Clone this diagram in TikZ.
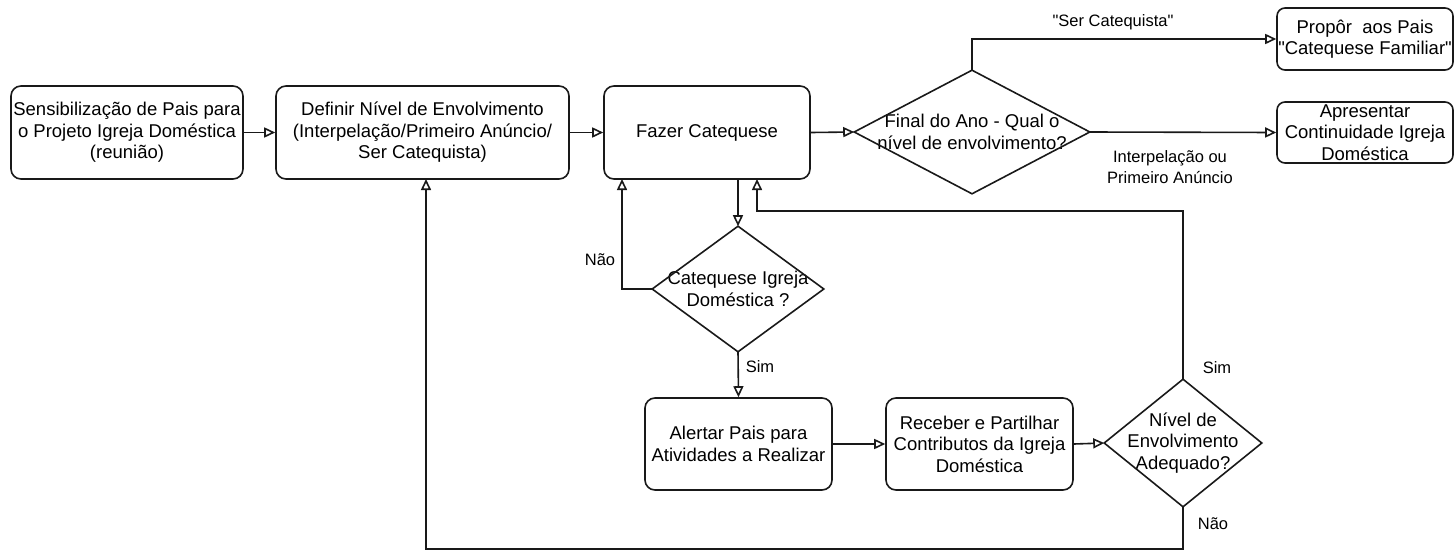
\documentclass[tikz,border=0pt]{standalone}
\usepackage{fontspec}
\setmainfont{Liberation Sans}
\usetikzlibrary{arrows.meta,calc}
\begin{document}
\begin{tikzpicture}[x=1pt,y=-1pt,
  line width=1.6pt,
  color=black!90,
  boxnode/.style={draw, rounded corners=10pt, inner sep=0pt, align=center, text=black, font=\fontsize{18.5}{21.5}\selectfont},
  dianode/.style={draw=none, inner sep=0pt, align=center, text=black, font=\fontsize{18.5}{21.5}\selectfont},
  lbl/.style={inner sep=0pt, text=black, font=\fontsize{16.5}{21}\selectfont},
  arr/.style={draw, -{Triangle[open, length=11pt, width=10pt, fill=white]}},
  diashape/.style={draw, line join=miter}
]
\useasboundingbox (0,0) rectangle (1455,554);

% boxes
\node[boxnode, minimum width=232pt, minimum height=93pt] (a) at (127,132.5) {Sensibilização de Pais para\\o Projeto Igreja Doméstica\\(reunião)};
\node[boxnode, minimum width=293pt, minimum height=93pt] (b) at (422.5,132.5) {Definir Nível de Envolvimento\\(Interpelação/Primeiro Anúncio/\\Ser Catequista)};
\node[boxnode, minimum width=206pt, minimum height=93pt] (c) at (707,132.5) {Fazer Catequese};
\node[boxnode, minimum width=176pt, minimum height=62pt, rounded corners=8pt] (p) at (1365,39) {Propôr\ \ aos Pais\\\textquotedbl Catequese Familiar\textquotedbl};
\node[boxnode, minimum width=176pt, minimum height=61pt, rounded corners=8pt] (ap) at (1365,132.5) {Apresentar\\Continuidade Igreja\\Doméstica};
\node[boxnode, minimum width=187pt, minimum height=92pt] (al) at (738.5,444) {Alertar Pais para\\Atividades a Realizar};
\node[boxnode, minimum width=187pt, minimum height=92pt] (re) at (979.5,444) {Receber e Partilhar\\Contributos da Igreja\\Doméstica};

% diamonds
\node[dianode, minimum width=234pt, minimum height=122pt] (d1) at (972,132) {Final do Ano - Qual o\\nível de envolvimento?};
\node[dianode, minimum width=170pt, minimum height=124pt] (d2) at (738,289) {Catequese Igreja\\Doméstica ?};
\node[dianode, minimum width=156pt, minimum height=126pt] (d3) at (1183,443) {Nível de\\Envolvimento\\Adequado?};
\foreach \d in {d1,d2,d3}{
  \draw[diashape] (\d.north) -- (\d.east) -- (\d.south) -- (\d.west) -- cycle;
}

% helper coordinates
\coordinate (cNao) at (622,179);
\coordinate (cSim) at (757,179);
\coordinate (kSim) at (757,211);
\coordinate (bIn) at (426,179);
\coordinate (kB) at (426,549);

% connectors
\draw[arr] (a.east) -- (b.west);
\draw[arr] (b.east) -- (c.west);
\draw[arr] (c.east) -- (d1.west);
\draw[arr] (d1.north) |- (p.west);
\draw[arr] (d1.east) -- (ap.west);
\draw[arr] (d2.north |- c.south) -- (d2.north);
\draw[arr] (d2.west) -| (cNao);
\draw[arr] (d2.south) -- (al.north);
\draw[arr] (al.east) -- (re.west);
\draw[arr] (re.east) -- (d3.west);
\draw[arr] (d3.north) |- (kSim) -- (cSim);
\draw[arr] (d3.south) |- (kB) -- (bIn);

% labels
\node[lbl] (l1) at (1113,22) {\textquotedbl Ser Catequista\textquotedbl};
\node[lbl, align=center] (l2) at (1170,167.5) {Interpelação ou\\Primeiro Anúncio};
\node[lbl] (l3) at (600,260) {Não};
\node[lbl] (l4) at (760,367) {Sim};
\node[lbl] (l5) at (1217,368) {Sim};
\node[lbl] (l6) at (1213,524) {Não};
\end{tikzpicture}
\end{document}
